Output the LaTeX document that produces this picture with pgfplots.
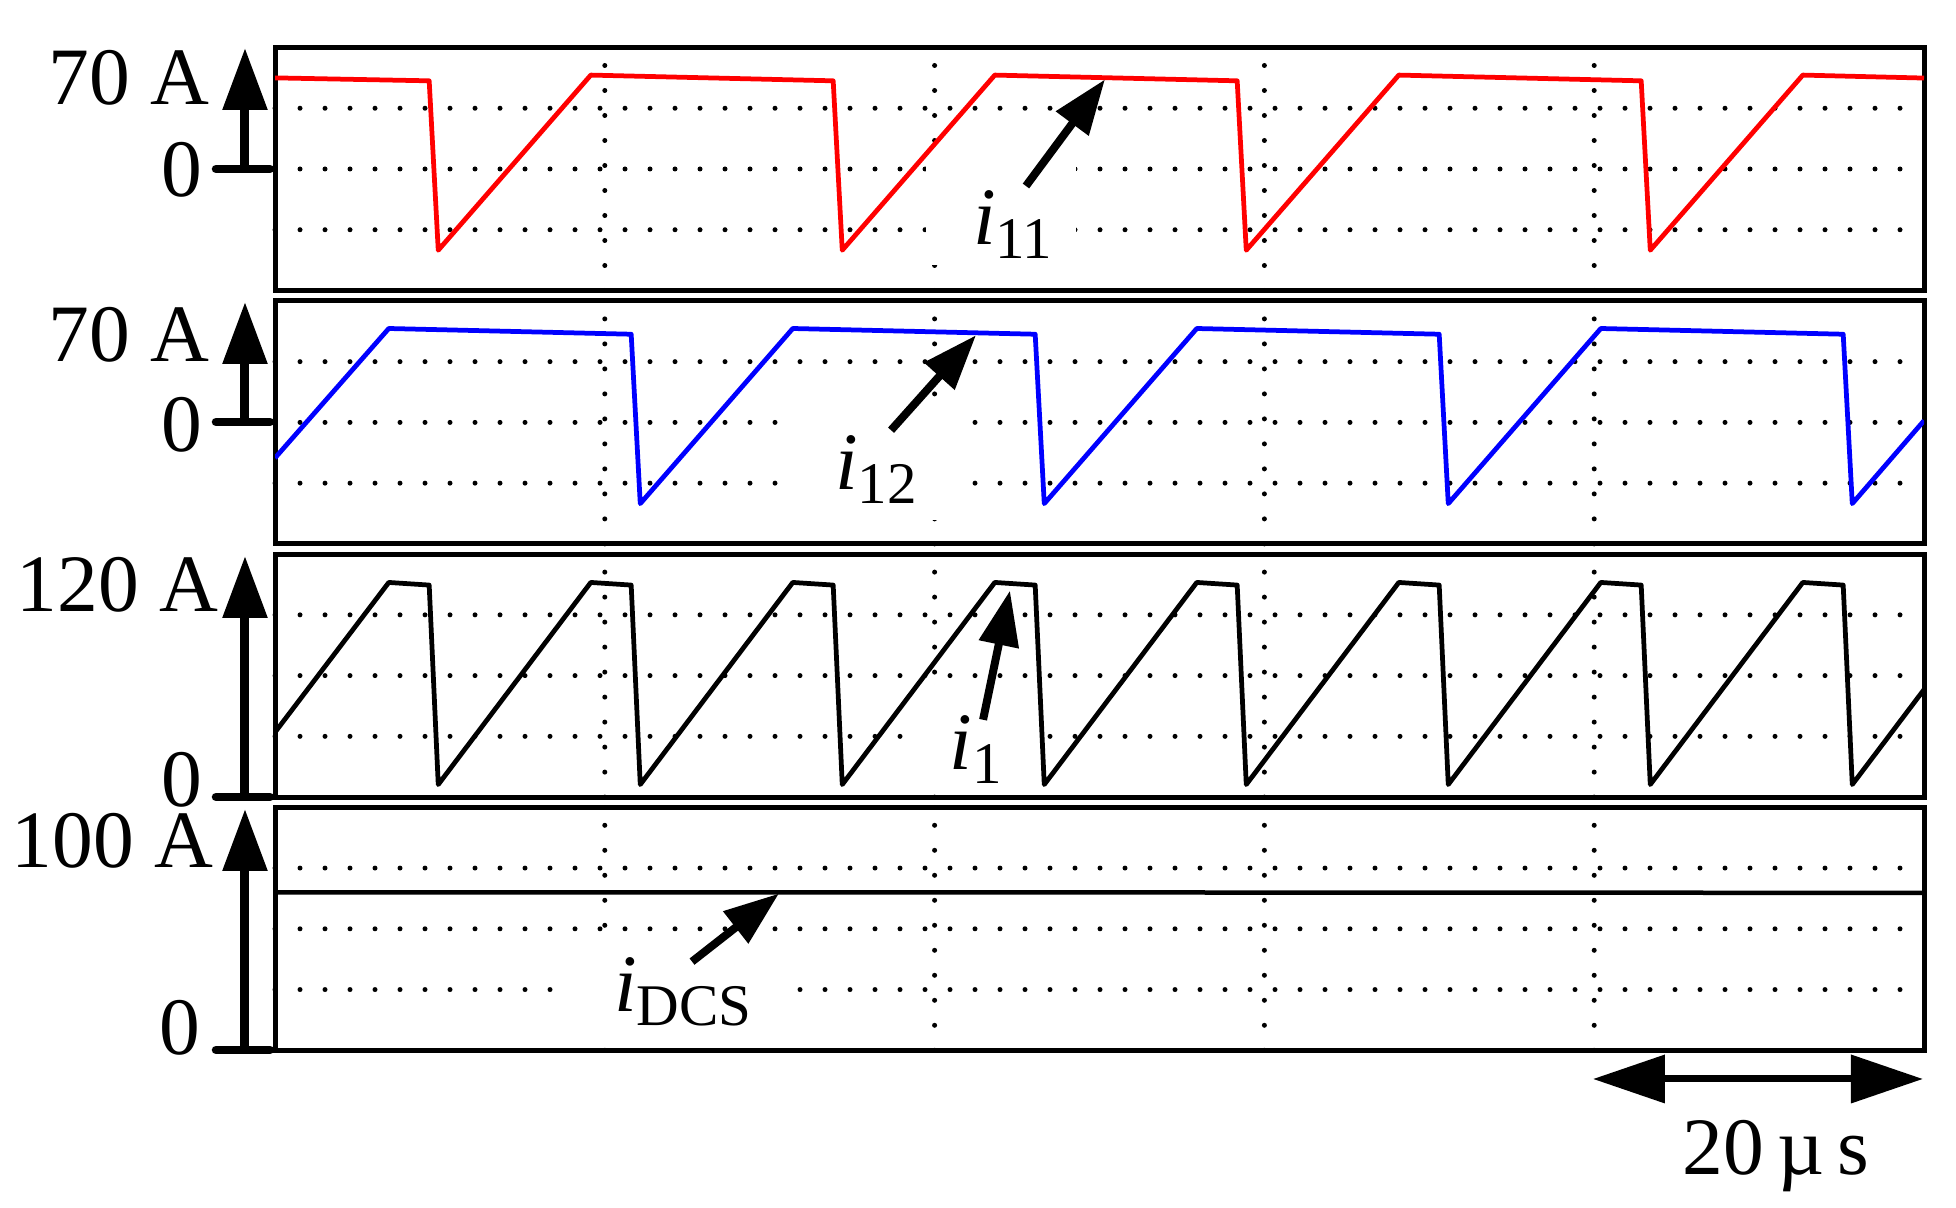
\documentclass[border=0pt]{standalone}
\usepackage{fontspec}
\setmainfont{Liberation Serif}
\usepackage{pgfplots}
\pgfplotsset{compat=1.18}
\usetikzlibrary{arrows.meta}

% current label: italic i with an upright, lowered subscript
\newcommand{\lbl}[1]{\textit{i}\raisebox{-2.8pt}{\fontsize{11.8}{12}\selectfont #1}}

\pgfplotsset{
  panel/.style={
    scale only axis, width=329.8pt, height=48.6pt, anchor=south west,
    xmin=0, xmax=100, xtick={20,40,60,80},
    xticklabels={}, yticklabels={}, major tick length=0pt,
    tick style={draw=none},
    grid=major,
    grid style={black, line width=1pt, line cap=round, dash pattern=on 0pt off 5pt},
    axis line style={line width=1pt},
    set layers,
  },
}
\tikzset{
  trace/.style={line width=0.95pt, line join=round},
  note/.style={line width=1.6pt, -{Triangle[length=11pt,width=7.8pt]}},
  lbl/.style={anchor=base west, inner sep=0pt},
}

\begin{document}
\fontsize{16.3}{19}\selectfont
\begin{tikzpicture}

%-----------------------------
% i11
%-----------------------------
\begin{axis}[panel, at={(55pt,183.3pt)}, ymin=-70, ymax=70, ytick={-35,0,35}]
\begin{pgfonlayer}{pre main}
\fill[white] (axis cs:39.5,6.3) rectangle (axis cs:48.6,-55.3);
\end{pgfonlayer}
\addplot[trace, red] coordinates {
  (0,52.5) (9.35,50.8) (9.9,-46.8) (19.15,54.1)
  (33.85,50.8) (34.4,-46.8) (43.65,54.1)
  (58.35,50.8) (58.9,-46.8) (68.15,54.1)
  (82.85,50.8) (83.4,-46.8) (92.65,54.1) (100,52.4)
};
\node[lbl] at (axis cs:42.27,-43.75) {\lbl{11}};
\draw[note] (axis cs:45.54,-9.8) -- (axis cs:50.33,51.6);
\end{axis}

%-----------------------------
% i12
%-----------------------------
\begin{axis}[panel, at={(55pt,132.62pt)}, ymin=-70, ymax=70, ytick={-35,0,35}]
\begin{pgfonlayer}{pre main}
\fill[white] (axis cs:30.8,7.0) rectangle (axis cs:41.6,-56.3);
\end{pgfonlayer}
\addplot[trace, blue] coordinates {
  (0,-20.5) (6.9,54.1) (21.6,50.8) (22.15,-46.8) (31.4,54.1)
  (46.1,50.8) (46.65,-46.8) (55.9,54.1)
  (70.6,50.8) (71.15,-46.8) (80.4,54.1)
  (95.1,50.8) (95.65,-46.8) (100,1.0)
};
\node[lbl] at (axis cs:33.9,-38.4) {\lbl{12}};
\draw[note] (axis cs:37.36,-4.5) -- (axis cs:42.51,50.2);
\end{axis}

%-----------------------------
% i1
%-----------------------------
\begin{axis}[panel, at={(55pt,81.98pt)}, ymin=0, ymax=120, ytick={30,60,90}]
\begin{pgfonlayer}{pre main}
\fill[white] (axis cs:38.7,54) rectangle (axis cs:46.2,3.5);
\end{pgfonlayer}
\addplot[trace, black] coordinates {
  (0,32.0) (6.9,106) (9.35,104.7) (9.9,6.2)
  (19.15,106) (21.6,104.7) (22.15,6.2)
  (31.4,106) (33.85,104.7) (34.4,6.2)
  (43.65,106) (46.1,104.7) (46.65,6.2)
  (55.9,106) (58.35,104.7) (58.9,6.2)
  (68.15,106) (70.6,104.7) (71.15,6.2)
  (80.4,106) (82.85,104.7) (83.4,6.2)
  (92.65,106) (95.1,104.7) (95.65,6.2) (100,53.1)
};
\node[lbl] at (axis cs:40.87,13.4) {\lbl{1}};
\draw[note] (axis cs:42.94,38.2) -- (axis cs:44.57,102);
\end{axis}

%-----------------------------
% iDCS
%-----------------------------
\begin{axis}[panel, at={(55pt,31.34pt)}, ymin=0, ymax=100, ytick={25,50,75}]
\begin{pgfonlayer}{pre main}
\fill[white] (axis cs:17.95,48.5) rectangle (axis cs:30.7,8.4);
\end{pgfonlayer}
\addplot[line width=0.9pt, black] coordinates {
  (0,65.0) (45,65.0) (64,64.9) (100,64.8)
};
\node[lbl] at (axis cs:20.5,15.8) {\lbl{DCS}};
\draw[note] (axis cs:25.29,36.5) -- (axis cs:30.56,64.5);
\end{axis}

%-----------------------------
% scale arrows and labels (image pixel units)
%-----------------------------
\begin{scope}[x=0.2pt, y=-0.2pt, shift={(0pt,241.4pt)}]
  \tikzset{
    zero/.style={line width=1.7pt, line cap=round},
    up/.style={line width=1.8pt, -{Triangle[length=12.4pt,width=8.6pt]}},
    lab/.style={anchor=base east, inner sep=0pt},
  }
  % panel 1
  \draw[zero] (216,169) -- (270,169);
  \draw[up] (245,169) -- (245,48);
  \node[lab] at (210,105) {70 A};
  \node[lab] at (203,197) {0};
  % panel 2
  \draw[zero] (216,422) -- (270,422);
  \draw[up] (245,422) -- (245,302);
  \node[lab] at (210,362) {70 A};
  \node[lab] at (203,452) {0};
  % panel 3
  \draw[zero] (216,797) -- (270,797);
  \draw[up] (245,797) -- (245,556);
  \node[lab] at (219,612) {120 A};
  \node[lab] at (203,807) {0};
  % panel 4
  \draw[zero] (216,1050) -- (270,1050);
  \draw[up] (245,1050) -- (245,809);
  \node[lab] at (214,868) {100 A};
  \node[lab] at (201,1055) {0};
  % time scale
  \draw[line width=1.4pt, {Triangle[length=14.4pt,width=9.4pt]}-{Triangle[length=14.4pt,width=9.4pt]}]
    (1593,1079) -- (1923,1079);
  \node[anchor=base, inner sep=0pt] at (1776,1175) {20\,µ\,s};
\end{scope}

% page frame, same size as the reference
\path (0,0) rectangle (391.2pt,241.4pt);

\end{tikzpicture}
\end{document}
